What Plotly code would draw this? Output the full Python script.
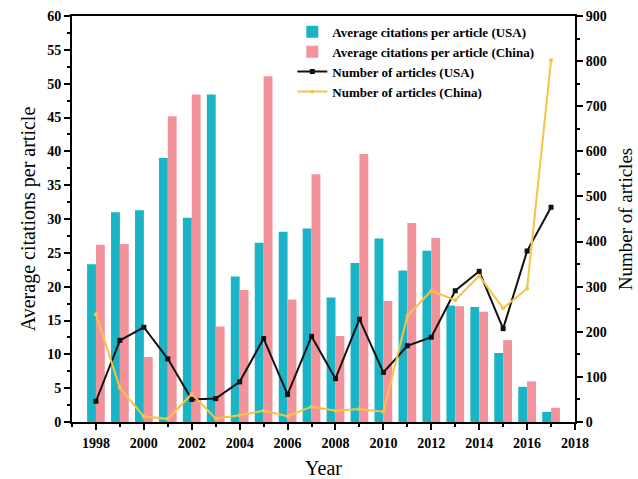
import plotly.graph_objects as go

years = list(range(1998, 2018))
cit_usa = [23.3, 31.0, 31.3, 39.0, 30.2, 48.4, 21.5, 26.5, 28.1, 28.6,
           18.4, 23.5, 27.1, 22.4, 25.3, 17.2, 17.0, 10.2, 5.2, 1.5]
cit_china = [26.2, 26.3, 9.6, 45.2, 48.4, 14.1, 19.5, 51.1, 18.1, 36.6,
             12.7, 39.6, 17.9, 29.4, 27.2, 17.1, 16.3, 12.1, 6.0, 2.1]
n_usa = [46, 181, 210, 140, 50, 52, 89, 185, 61, 190,
         96, 228, 110, 169, 188, 291, 334, 207, 379, 476]
n_china = [239, 76, 12, 7, 62, 8, 15, 25, 13, 34,
           25, 29, 23, 235, 291, 270, 324, 252, 296, 802]

x_ticks = list(range(1998, 2019, 2))
left_ticks = list(range(0, 61, 5))
right_ticks = list(range(0, 901, 100))

serif = "Liberation Serif, Times New Roman, serif"
teal = "#1AB4C6"
pink = "#F2939C"
gold = "#F4C446"

fig = go.Figure()
fig.add_trace(go.Bar(x=years, y=cit_usa, name="Average citations per article (USA)",
                     marker=dict(color=teal, line=dict(width=0))))
fig.add_trace(go.Bar(x=years, y=cit_china, name="Average citations per article (China)",
                     marker=dict(color=pink, line=dict(width=0))))
fig.add_trace(go.Scatter(x=years, y=n_usa, name="Number of articles (USA)", yaxis="y2",
                         mode="lines+markers", line=dict(color="#111111", width=2),
                         marker=dict(symbol="square", size=5, color="#111111")))
fig.add_trace(go.Scatter(x=years, y=n_china, name="Number of articles (China)", yaxis="y2",
                         mode="lines+markers", line=dict(color=gold, width=2),
                         marker=dict(symbol="circle", size=4, color=gold)))

tickfont = dict(family=serif, size=14, color="black", weight="bold")
fig.update_layout(
    width=638, height=479,
    margin=dict(l=72, r=63, t=16, b=57),
    plot_bgcolor="white", paper_bgcolor="white",
    barmode="group", bargap=0.26, bargroupgap=0,
    showlegend=True,
    legend=dict(x=0.438, y=0.998, xanchor="left", yanchor="top",
                font=dict(family=serif, size=13, color="black", weight="bold"),
                bgcolor="rgba(0,0,0,0)", tracegroupgap=0),
    xaxis=dict(range=[1997, 2018], tickvals=x_ticks, ticktext=[str(v) for v in x_ticks],
               tickfont=tickfont, ticklabelstandoff=1,
               ticks="outside", ticklen=6, tickwidth=1.5, tickcolor="black",
               minor=dict(dtick=1, tick0=1998, ticks="outside", ticklen=3, tickcolor="black"),
               showline=True, linewidth=2, linecolor="black", mirror=True,
               showgrid=False, zeroline=False, automargin=False,
               title=dict(text="Year", font=dict(family=serif, size=20, color="black"), standoff=18)),
    yaxis=dict(range=[0, 60], tickvals=left_ticks,
               tickfont=tickfont,
               ticks="outside", ticklen=6, tickwidth=1.5, tickcolor="black",
               minor=dict(dtick=2.5, tick0=0, ticks="outside", ticklen=3, tickcolor="black"),
               showline=True, linewidth=2, linecolor="black",
               showgrid=False, zeroline=False, automargin=False,
               title=dict(text="Average citations per article",
                          font=dict(family=serif, size=20, color="black"), standoff=6)),
    yaxis2=dict(range=[0, 900], tickvals=right_ticks, overlaying="y", side="right",
                tickfont=tickfont,
                ticks="outside", ticklen=6, tickwidth=1.5, tickcolor="black",
                minor=dict(dtick=50, tick0=0, ticks="outside", ticklen=3, tickcolor="black"),
                showline=True, linewidth=2, linecolor="black",
                showgrid=False, zeroline=False, automargin=False,
                title=dict(text="Number of articles",
                           font=dict(family=serif, size=19, color="black"), standoff=13)),
)

fig.write_html("out.html", config={"displayModeBar": False},
               post_script="document.body.style.margin='0px';")
